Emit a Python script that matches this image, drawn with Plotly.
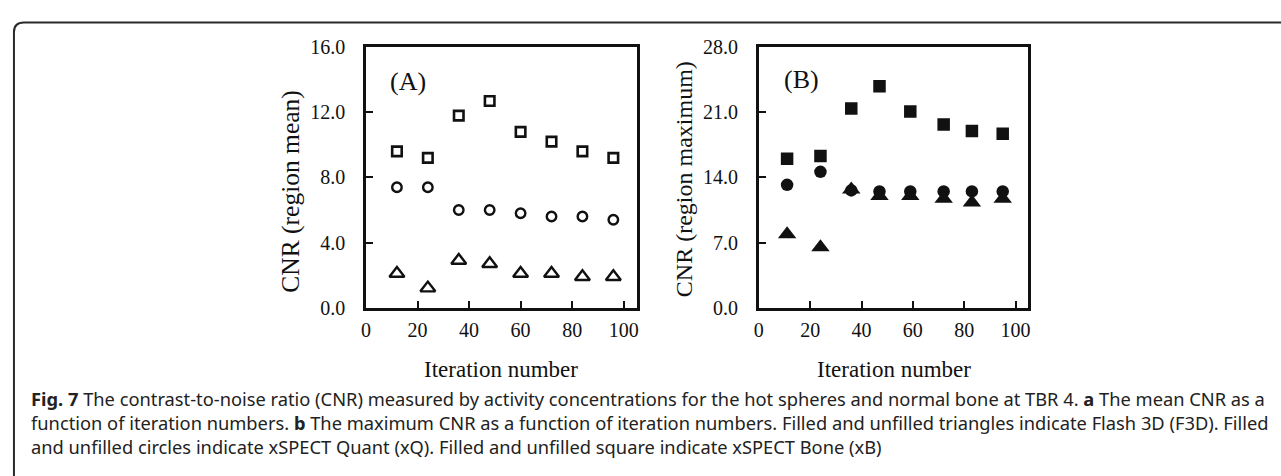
import plotly.graph_objects as go

W, H = 1281, 476

# ---- data ----
iter_a = [12, 24, 36, 48, 60, 72, 84, 96]
xb_mean = [9.6, 9.2, 11.8, 12.7, 10.8, 10.2, 9.6, 9.2]
xq_mean = [7.4, 7.4, 6.0, 6.0, 5.8, 5.6, 5.6, 5.4]
f3d_mean = [2.1, 1.2, 2.9, 2.7, 2.1, 2.1, 1.9, 1.9]

iter_b = [11, 24, 36, 47, 59, 72, 83, 95]
xb_max = [16.0, 16.3, 21.4, 23.8, 21.1, 19.7, 19.0, 18.7]
xq_max = [13.2, 14.6, 12.6, 12.5, 12.5, 12.5, 12.5, 12.5]
f3d_max = [7.9, 6.5, 12.7, 12.0, 12.0, 11.7, 11.3, 11.7]

x_ticks = [0, 20, 40, 60, 80, 100]
ya_ticks = [0, 4, 8, 12, 16]
yb_ticks = [0, 7, 14, 21, 28]

caption_lines = [
    "<b>Fig. 7</b> The contrast-to-noise ratio (CNR) measured by activity concentrations for the hot spheres and normal bone at TBR 4. <b>a</b> The mean CNR as a",
    "function of iteration numbers. <b>b</b> The maximum CNR as a function of iteration numbers. Filled and unfilled triangles indicate Flash 3D (F3D). Filled",
    "and unfilled circles indicate xSPECT Quant (xQ). Filled and unfilled square indicate xSPECT Bone (xB)",
]

SERIF = "Liberation Serif, Times New Roman, serif"
SANS = "Noto Sans, Open Sans, sans-serif"
INK = "#111111"

def px(x):
    return x / W

def py(y):
    return 1 - y / H

fig = go.Figure()

# Panel A (open markers)
fig.add_trace(go.Scatter(x=iter_a, y=xb_mean, mode="markers", xaxis="x", yaxis="y",
                         marker=dict(symbol="square-open", size=9.5, color=INK, line=dict(width=2.6, color=INK))))
fig.add_trace(go.Scatter(x=iter_a, y=xq_mean, mode="markers", xaxis="x", yaxis="y",
                         marker=dict(symbol="circle-open", size=9.5, color=INK, line=dict(width=2.4, color=INK))))
fig.add_trace(go.Scatter(x=iter_a, y=f3d_mean, mode="markers", xaxis="x", yaxis="y",
                         marker=dict(symbol="triangle-up-open", size=13, color=INK, line=dict(width=2.4, color=INK))))

# Panel B (filled markers)
fig.add_trace(go.Scatter(x=iter_b, y=xb_max, mode="markers", xaxis="x2", yaxis="y2",
                         marker=dict(symbol="square", size=12.5, color=INK, line=dict(width=0))))
fig.add_trace(go.Scatter(x=iter_b, y=xq_max, mode="markers", xaxis="x2", yaxis="y2",
                         marker=dict(symbol="circle", size=12.5, color=INK, line=dict(width=0))))
fig.add_trace(go.Scatter(x=iter_b, y=f3d_max, mode="markers", xaxis="x2", yaxis="y2",
                         marker=dict(symbol="triangle-up", size=16, color=INK, line=dict(width=0))))

axis_common = dict(showline=True, linewidth=2.5, linecolor=INK, mirror=True,
                   ticks="inside", ticklen=7, tickwidth=2, tickcolor=INK,
                   showgrid=False, zeroline=False,
                   tickfont=dict(family=SERIF, size=20, color=INK))

ytop, ybot = 38, 311
fig.update_layout(
    width=W, height=H,
    margin=dict(l=0, r=0, t=0, b=0),
    paper_bgcolor="white", plot_bgcolor="white",
    showlegend=False,
    xaxis=dict(domain=[px(363), px(635)], range=[0, 105], tickvals=x_ticks,
               anchor="y", ticklabelstandoff=3, **axis_common),
    yaxis=dict(domain=[py(ybot), py(ytop)], range=[0, 16], tickvals=ya_ticks,
               ticktext=[f"{v:.1f}" for v in ya_ticks], anchor="x",
               ticklabelstandoff=14, **axis_common),
    xaxis2=dict(domain=[px(758), px(1029)], range=[0, 105], tickvals=x_ticks,
                anchor="y2", ticklabelstandoff=3, **axis_common),
    yaxis2=dict(domain=[py(ybot), py(ytop)], range=[0, 28], tickvals=yb_ticks,
                ticktext=[f"{v:.1f}" for v in yb_ticks], anchor="x2",
                ticklabelstandoff=14, **axis_common),
)

def label(text, x, y, size, angle=0):
    return dict(text=text, x=px(x), y=py(y), xref="paper", yref="paper",
                xanchor="center", yanchor="middle", showarrow=False, textangle=angle,
                font=dict(family=SERIF, size=size, color=INK))

ann = [
    label("(A)", 405, 74, 26),
    label("(B)", 801, 72, 26),
    label("CNR (region mean)", 287, 189, 25.5, -90),
    label("CNR (region maximum)", 683, 176, 24, -90),
    label("Iteration number", 499, 376, 23),
    label("Iteration number", 894, 376, 23),
    dict(text="<br>".join(caption_lines), x=px(24), y=py(431), xref="paper", yref="paper",
         xanchor="left", yanchor="middle", align="left", showarrow=False,
         font=dict(family=SANS, size=18.3, color="#222222")),
]
fig.update_layout(annotations=ann)

# outer rounded frame (open at right and bottom, as in the source page)
x0, y0, r = 9, 12, 10
path = (f"M {px(x0)},{py(H + 20)} L {px(x0)},{py(y0 + r)} "
        f"Q {px(x0)},{py(y0)} {px(x0 + r)},{py(y0)} L {px(W + 20)},{py(y0)}")
fig.add_shape(type="path", path=path, xref="paper", yref="paper",
              line=dict(color="#2a2a2a", width=2))

fig.write_html("out.html")
